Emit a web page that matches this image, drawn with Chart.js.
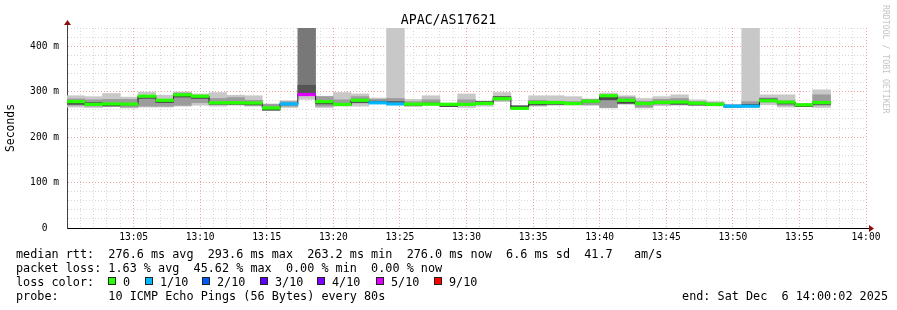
<!DOCTYPE html>
<html>
<head>
<meta charset="utf-8">
<title>APAC/AS17621</title>
<script src="https://cdn.jsdelivr.net/npm/chart.js@4.4.1/dist/chart.umd.min.js"></script>
<style>
  body { margin: 0; background: #fff; }
  #page { position: relative; width: 897px; height: 310px; overflow: hidden; font-family: 'DejaVu Sans Mono', monospace; }
  #graph { position: absolute; left: 0; top: 0; }
  .txt { position: absolute; white-space: pre; color: #000; }
  .legend { font-size: 11.8px; line-height: 14px; }
  .box { position: absolute; width: 6px; height: 6px; border: 1px solid #222; }
</style>
</head>
<body>
<div id="page">
  <canvas id="graph" width="897" height="310"></canvas>
  <div class="txt" style="left:0; width:897px; top:12px; text-align:center; font-size:13.2px; line-height:16px;">APAC/AS17621</div>
  <div class="txt" style="left:891px; top:5px; font-size:8.2px; line-height:10px; color:#c4c4c4; transform-origin:0 0; transform:rotate(90deg);">RRDTOOL / TOBI OETIKER</div>

  <div class="txt legend" style="left:16px; top:247px;">median rtt:  276.6 ms avg  293.6 ms max  263.2 ms min  276.0 ms now  6.6 ms sd  41.7   am/s</div>
  <div class="txt legend" style="left:16px; top:261px;">packet loss: 1.63 % avg  45.62 % max  0.00 % min  0.00 % now</div>
  <div class="txt legend" style="left:16px; top:275px;">loss color:</div>
  <div id="losskey"></div>
  <div class="txt legend" style="left:16px; top:289px;">probe:       10 ICMP Echo Pings (56 Bytes) every 80s</div>
  <div class="txt legend" style="right:9px; top:289px; text-align:right;">end: Sat Dec  6 14:00:02 2025</div>
</div>

<script>
// one value per 80 s probe round, 13:00 -> 13:57
const median = [278, 272, 273, 272.5, 290, 281, 293, 290, 275.5, 275.5, 275, 264, 273, 293.6, 278, 272, 281, 275.5, 273, 272.5, 272.5,
                272, 272, 274, 284.5, 263.2, 276, 276, 274, 279, 291, 281, 274, 276.5, 277, 274.5, 272, 268, 268, 280, 277, 271, 276];
const lost   = [0, 0, 0, 0, 0, 0, 0, 0, 0, 0, 0, 0, 1, 5, 0, 0, 0, 1, 1, 0, 0,
                0, 0, 0, 0, 0, 0, 0, 0, 0, 0, 0, 0, 0, 0, 0, 0, 1, 1, 0, 0, 0, 0];

// smoke: outer (fastest / slowest ping), middle and inner pings
const outerLo = [266, 265, 268, 264, 266, 266, 268, 270, 268, 270, 268, 259, 265, 283, 265, 268, 268, 273, 271, 267, 270,
                 268, 265, 268, 278, 261, 268, 270, 270, 270, 264, 272, 264, 269, 270, 272, 269, 265, 266, 271, 266, 268, 265];
const outerHi = [291, 289, 296, 288, 299, 292, 299, 295, 298, 292, 291, 273, 280, 292, 290, 298, 295, 286, 460, 283, 291,
                 275, 295, 278, 298, 268, 291, 291, 289, 284, 297, 291, 285, 289, 293, 282, 278, 272, 460, 293, 293, 274, 304];
const midLo   = [270, 268, 270, 266, 268, 268, 270, 276, 276, 276, 270, 261, 268, 292, 268, 270, 275, 276, 275, 270, 274,
                 268, 270, 272, 281, 262, 270, 272, 272, 271, 265, 276, 266, 272, 273, 272, 270, 266, 268, 277, 270, 268, 270];
const midHi   = [284, 282, 283, 283, 284, 278, 297, 286, 285, 287, 281, 272, 278, 460, 289, 282, 289, 283, 285, 278, 282,
                 274, 282, 279, 289, 268, 281, 279, 278, 283, 282, 288, 279, 283, 285, 278, 276, 271, 278, 286, 280, 273, 293];
const innerLo = [272, 273, 268, 270, 285, 276, 288, 285, 272, 272, 271, 259, 271, 293, 273, 270, 276, 277, 275, 270, 272,
                 267, 270, 276, 286, 266, 271, 272, 272, 277, 282, 274, 272, 274, 272, 270, 269, 266, 268, 282, 273, 267, 272];
const innerHi = [276, 276, 272, 273, 289, 280, 291, 288, 276, 276, 274, 263, 274, 314, 276, 273, 279, 279, 278, 273, 275,
                 270, 273, 278, 289, 269, 275, 275, 275, 279, 288, 278, 275, 277, 275, 273, 272, 269, 272, 284, 276, 270, 275];

const lossLabels = ['0', '1/10', '2/10', '3/10', '4/10', '5/10', '9/10'];
const lossColors = ['#26ff00', '#00b8ff', '#0059ff', '#5e00ff', '#7e00ff', '#dd00ff', '#ff0000'];
const lossBins   = [0, 1, 2, 3, 4, 5, 9];

const STEP = 80 / 60;          // minutes per round
const SW = 2.8;                // half height of the coloured median band
const FONT = "'DejaVu Sans Mono', monospace";

function lossColor(n) {
    let c = lossColors[0];
    for (let i = 0; i < lossBins.length; i++) if (n >= lossBins[i]) c = lossColors[i];
    return c;
}
function band(lo, hi) {
    return lo.map((v, i) => ({ x: (i + 0.5) * STEP, y: [v, hi[i]] }));
}
function hhmm(v) {
    const h = 13 + Math.floor(v / 60), m = v % 60;
    return h + ':' + String(m).padStart(2, '0');
}

// loss colour key
const key = document.getElementById('losskey');
const keyX = [108, 145, 202, 260, 317, 376, 434];
lossLabels.forEach((lab, i) => {
    const b = document.createElement('div');
    b.className = 'box';
    b.style.left = keyX[i] + 'px';
    b.style.top = '277px';
    b.style.background = lossColors[i];
    key.appendChild(b);
    const t = document.createElement('div');
    t.className = 'txt legend';
    t.style.left = (keyX[i] + 15) + 'px';
    t.style.top = '275px';
    t.textContent = lab;
    key.appendChild(t);
});

const medianLine = median.map((m, i) => ({ x: i * STEP, y: m }));
medianLine.push({ x: median.length * STEP, y: median[median.length - 1] });

const barBase = { type: 'bar', stack: 'smoke', borderWidth: 0, barThickness: 'flex',
                  categoryPercentage: 1.0, barPercentage: 1.0 };

const arrows = {
    id: 'arrows',
    afterDraw(chart) {
        const { ctx, chartArea: a } = chart;
        ctx.save();
        ctx.strokeStyle = '#000';
        ctx.lineWidth = 1;
        ctx.beginPath();
        ctx.moveTo(a.right, Math.round(a.bottom) + 0.5);
        ctx.lineTo(a.right + 3, Math.round(a.bottom) + 0.5);
        ctx.stroke();
        ctx.strokeStyle = '#404040';
        ctx.beginPath();
        ctx.moveTo(Math.round(a.left) + 0.5, a.top);
        ctx.lineTo(Math.round(a.left) + 0.5, a.top - 3);
        ctx.stroke();
        ctx.fillStyle = '#8b1010';
        ctx.beginPath();
        ctx.moveTo(a.left - 3, a.top - 3);
        ctx.lineTo(a.left + 4, a.top - 3);
        ctx.lineTo(a.left + 0.5, a.top - 8);
        ctx.closePath();
        ctx.fill();
        ctx.beginPath();
        ctx.moveTo(a.right + 3, a.bottom - 3);
        ctx.lineTo(a.right + 3, a.bottom + 4);
        ctx.lineTo(a.right + 8, a.bottom + 0.5);
        ctx.closePath();
        ctx.fill();
        ctx.restore();
    }
};

new Chart(document.getElementById('graph'), {
    type: 'line',
    data: {
        datasets: [
            Object.assign({}, barBase, { order: 0, data: median.map((m, i) => ({ x: (i + 0.5) * STEP, y: [m - SW, m + SW] })),
                backgroundColor: lost.map(lossColor) }),
            { type: 'line', order: 1, data: medianLine, stepped: true, borderColor: '#202020', borderWidth: 1,
              pointRadius: 0, fill: false },
            // rounds with heavy loss have fewer pings, so their smoke is darker
            Object.assign({}, barBase, { order: 2, data: band(innerLo, innerHi),
                backgroundColor: lost.map(n => (n >= 5 ? '#555555' : '#4a4a4a')) }),
            Object.assign({}, barBase, { order: 3, data: band(midLo, midHi),
                backgroundColor: lost.map(n => (n >= 5 ? '#787878' : '#9c9c9c')) }),
            Object.assign({}, barBase, { order: 4, data: band(outerLo, outerHi), backgroundColor: '#c8c8c8' })
        ]
    },
    options: {
        responsive: false,
        animation: false,
        devicePixelRatio: 1,
        layout: { padding: { left: 0, right: 31, top: 28, bottom: 0 } },
        plugins: { legend: { display: false }, tooltip: { enabled: false } },
        scales: {
            x: {
                type: 'linear', min: 0, max: 60, offset: false,
                afterFit: (s) => { s.height = 82; },
                ticks: {
                    stepSize: 1, autoSkip: false, maxRotation: 0, padding: 4, color: '#000',
                    font: { family: FONT, size: 9.6 },
                    callback: (v) => (v % 5 === 0 && v > 0 ? hhmm(v) : '')
                },
                grid: {
                    offset: false, drawTicks: false, lineWidth: 1,
                    color: (c) => (c.tick && c.tick.value % 5 === 0 ? '#f2a0a0' : '#d8d8d8')
                },
                border: { display: true, color: '#000', width: 1, dash: [1, 2] }
            },
            y: {
                type: 'linear', min: 0, max: 440, stacked: false,
                afterFit: (s) => { s.width = 67; },
                title: { display: true, text: 'Seconds', color: '#000', font: { family: FONT, size: 11.4 }, padding: { top: 4, bottom: 4 } },
                ticks: {
                    stepSize: 20, autoSkip: false, padding: 8, color: '#000',
                    font: { family: FONT, size: 9.6 },
                    callback: (v) => (v % 100 !== 0 ? '' : (v === 0 ? '0  ' : v + ' m'))
                },
                grid: {
                    drawTicks: false, lineWidth: 1,
                    color: (c) => (c.tick && c.tick.value % 100 === 0 ? '#f2a0a0' : '#d8d8d8')
                },
                border: { display: true, color: '#404040', width: 1, dash: [1, 2] }
            }
        }
    },
    plugins: [arrows]
});
</script>
</body>
</html>
